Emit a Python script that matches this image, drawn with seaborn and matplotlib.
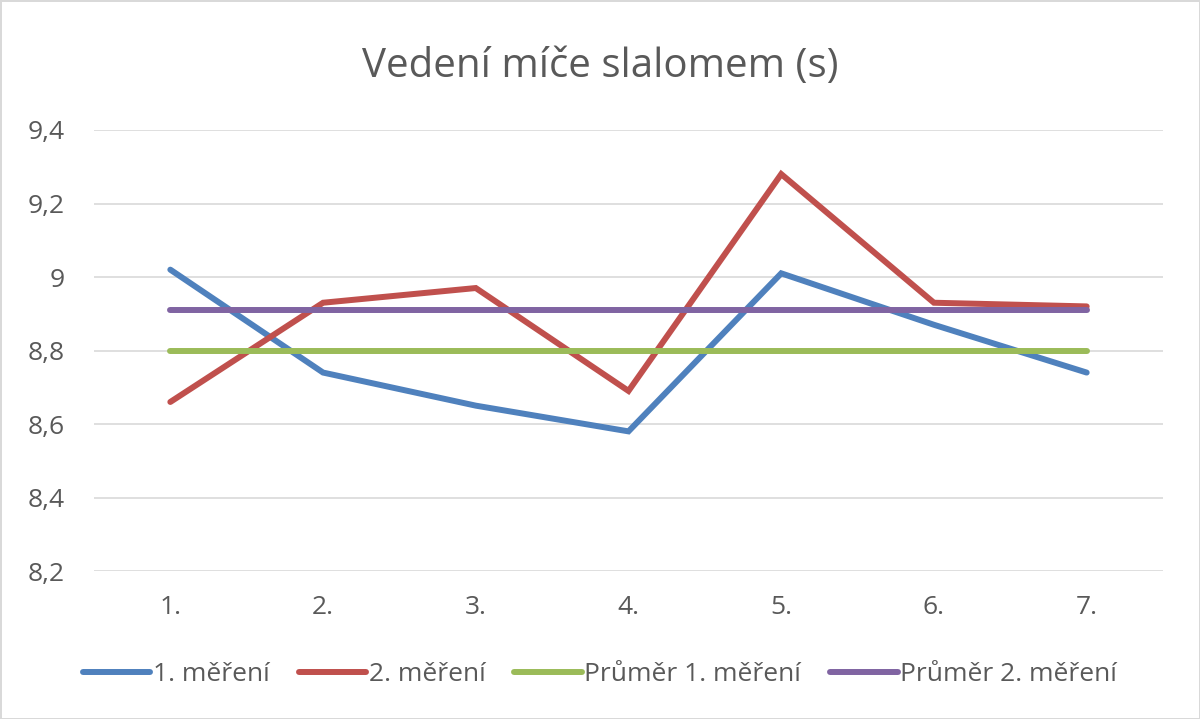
import seaborn as sns
import matplotlib.pyplot as plt
import matplotlib.ticker as mticker
import numpy as np
import pandas as pd

sns.set_theme(style="white")
plt.rcParams['font.family'] = ['Open Sans', 'DejaVu Sans']

# data
categories = ['1.', '2.', '3.', '4.', '5.', '6.', '7.']
mereni_1 = [9.02, 8.74, 8.65, 8.58, 9.01, 8.87, 8.74]
mereni_2 = [8.66, 8.93, 8.97, 8.69, 9.28, 8.93, 8.92]
prumer_1 = [8.80] * 7
prumer_2 = [8.91] * 7

series_names = ['1. měření', '2. měření', 'Průměr 1. měření', 'Průměr 2. měření']
colors = ['#4F81BD', '#C0504D', '#9BBB59', '#8064A2']

pos = np.arange(len(categories))
df = pd.DataFrame({'pos': pos,
                   series_names[0]: mereni_1,
                   series_names[1]: mereni_2,
                   series_names[2]: prumer_1,
                   series_names[3]: prumer_2})
long = df.melt(id_vars='pos', var_name='serie', value_name='cas')

fig = plt.figure(figsize=(12, 7.19), dpi=100)
fig.patch.set_edgecolor('#d9d9d9')
fig.patch.set_linewidth(2)
ax = fig.add_axes([0.0783, 0.2058, 0.8909, 0.6134])

sns.lineplot(data=long, x='pos', y='cas', hue='serie', hue_order=series_names,
             palette=colors, linewidth=4.3, ax=ax, legend=False,
             solid_capstyle='round', solid_joinstyle='miter')

ax.set_xlim(-0.5, 6.5)
ax.set_ylim(8.2, 9.4)
ax.set_xticks(pos)
ax.set_xticklabels(categories)
ax.set_yticks([8.2, 8.4, 8.6, 8.8, 9.0, 9.2, 9.4])
ax.yaxis.set_major_formatter(mticker.FuncFormatter(lambda v, p: f"{v:g}".replace('.', ',')))
ax.set_xlabel('')
ax.set_ylabel('')
ax.grid(axis='y', color='#d9d9d9', linewidth=1.2)
ax.set_axisbelow(True)
for s in ax.spines.values():
    s.set_visible(False)
ax.tick_params(axis='both', length=0, labelsize=19, labelcolor='#595959')
ax.tick_params(axis='x', pad=17)
ax.tick_params(axis='y', pad=21)

fig.suptitle('Vedení míče slalomem (s)', y=0.935, fontsize=29, color='#595959')

handles = [plt.Line2D([], [], color=c, linewidth=4.3, solid_capstyle='round') for c in colors]
fig.legend(handles, series_names, loc='center', bbox_to_anchor=(0.5, 0.062), ncol=4,
           frameon=False, fontsize=19, handlelength=2.55, handletextpad=0.1,
           columnspacing=1.1, labelcolor='#595959')

fig.savefig('out.png', dpi=100)
